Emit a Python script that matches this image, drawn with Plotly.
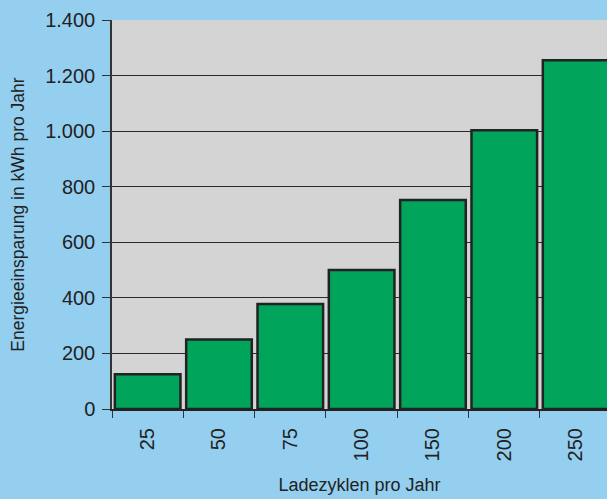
import plotly.graph_objects as go

categories = ["25", "50", "75", "100", "150", "200", "250"]
savings_kwh = [125, 250, 378, 500, 752, 1003, 1255]
y_ticks = [0, 200, 400, 600, 800, 1000, 1200, 1400]

fig = go.Figure()
fig.add_trace(go.Bar(
    x=categories,
    y=savings_kwh,
    marker=dict(color="#00a55b", line=dict(color="#222222", width=2.5)),
))

fig.update_layout(
    width=607, height=499,
    margin=dict(l=112, r=0, t=20, b=90),
    paper_bgcolor="#94cff0",
    plot_bgcolor="#d4d4d4",
    separators=",.",
    bargap=0.08,
    showlegend=False,
    font=dict(family="Liberation Sans, Arial, sans-serif", color="#222222"),
)
fig.update_xaxes(
    type="category",
    range=[-0.5, 6.44],
    tickangle=-90,
    ticks="outside", tickson="boundaries", ticklen=7, tickcolor="#333333", tickwidth=1,
    tickfont=dict(size=20, color="#222222"),
    ticklabelstandoff=9,
    showline=True, linecolor="#222222", linewidth=2,
    title=dict(text="Ladezyklen pro Jahr", font=dict(size=18, color="#222222"), standoff=18),
    showgrid=False,
)
fig.update_yaxes(
    range=[0, 1400],
    tickvals=y_ticks,
    tickformat=",d",
    ticks="outside", ticklen=8, tickcolor="#333333", tickwidth=1,
    tickfont=dict(size=20, color="#222222"),
    ticklabelstandoff=3,
    showline=True, linecolor="#333333", linewidth=1.5,
    showgrid=True, gridcolor="#2a2a2a", gridwidth=1.2,
    zeroline=False,
    title=dict(text="Energieeinsparung in kWh pro Jahr", font=dict(size=17.5, color="#222222"), standoff=16),
)

fig.write_html(
    "out.html",
    config={"displayModeBar": False},
    post_script="document.body.style.margin='0';document.body.style.background='#94cff0';",
)
